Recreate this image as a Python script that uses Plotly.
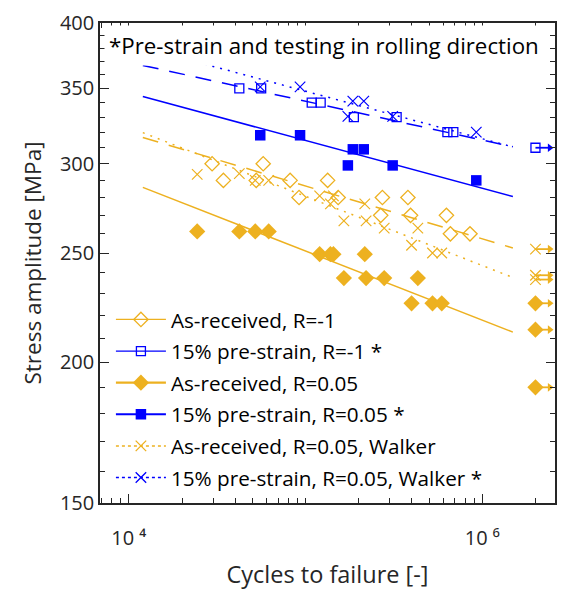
import numpy as np
import plotly.graph_objects as go

ORANGE = "#EDB120"
BLUE = "#0000FF"
AXIS = "#262626"
FONT = "Open Sans"

# ---- As-received, R=-1 ----
ar_m1_cycles = [29600, 57600, 34300, 52600, 81800, 133400, 91900, 153000,
                272200, 379600, 266300, 392900, 627000, 660300, 852300]
ar_m1_stress = [300, 300, 290, 290, 290, 290, 280, 280,
                280, 280, 270, 270, 270, 260, 260]

# ---- 15% pre-strain, R=-1 ----
ps_m1_cycles = [42200, 56100, 108400, 121800, 187700, 327700, 635000, 686000]
ps_m1_stress = [350, 350, 340, 340, 330, 330, 320, 320]
ps_m1_runout_cycles = [2.0e6]
ps_m1_runout_stress = [310]

# ---- As-received, R=0.05 (and Walker equivalent amplitude) ----
ar_r005_cycles = [24380, 42200, 51940, 61870, 120200, 138300, 143800, 216400,
                  164800, 220100, 278700, 432000, 398100, 522900, 589800]
ar_r005_stress = [261.25, 261.25, 261.25, 261.25, 249.4, 249.4, 249.4, 249.4,
                  237.5, 237.5, 237.5, 237.5, 225.6, 225.6, 225.6]
ar_walker_stress = [293.6, 294, 290, 290, 281, 276.4, 281, 276.4,
                    267, 267, 263, 263, 254, 250, 250]
ar_r005_runout_cycles = [2.0e6, 2.0e6, 2.0e6]
ar_r005_runout_stress = [225.6, 213.75, 190]
ar_walker_runout_cycles = [2.0e6, 2.0e6, 2.0e6]
ar_walker_runout_stress = [252, 238.9, 236.8]

# ---- 15% pre-strain, R=0.05 (and Walker equivalent amplitude) ----
ps_r005_cycles = [55420, 93110, 185200, 213600, 173600, 311200, 925100]
ps_r005_stress = [318, 318, 309, 309, 299, 299, 290]
ps_walker_stress = [351, 351, 341, 341, 330.5, 330.5, 320]

# ---- Basquin fits (end points) ----
fit_cycles = [1.2e4, 1.49e6]
ar_m1_fit = [316.6, 252.6]
ps_m1_fit = [366.8, 310.6]
ar_r005_fit = [285.9, 212.7]
ps_r005_fit = [344.2, 280.6]
ar_walker_fit = [319.7, 237.8]
ps_walker_fit = [380.5, 310.5]

# ---- axis ticks ----
x_range = [6870, 2.58e6]
y_range = [150, 400]
x_major = [1e4, 1e6]
x_major_text = ["10 \u2074", "10 \u2076"]
x_minor = [7e3, 8e3, 9e3] + [k * 1e4 for k in range(2, 10)] + \
          [k * 1e5 for k in range(1, 10)] + [2e6]
y_major = [150, 200, 250, 300, 350, 400]
y_minor = [v for v in range(160, 400, 10) if v % 50 != 0]

legend_labels = [
    "As-received, R=-1",
    "15% pre-strain, R=-1 *",
    "As-received, R=0.05",
    "15% pre-strain, R=0.05 *",
    "As-received, R=0.05, Walker",
    "15% pre-strain, R=0.05, Walker *",
]

# run-out arrow length, in decades of the cycle axis
ARROW_DECADES = 0.081

fig = go.Figure()

# fit lines
fits = [
    (ar_m1_fit, ORANGE, "16px,11px"),
    (ps_m1_fit, BLUE, "16px,11px"),
    (ar_r005_fit, ORANGE, "solid"),
    (ps_r005_fit, BLUE, "solid"),
    (ar_walker_fit, ORANGE, "2px,6px"),
    (ps_walker_fit, BLUE, "2px,6px"),
]
for ys, col, dash in fits:
    fig.add_trace(go.Scatter(x=fit_cycles, y=ys, mode="lines", showlegend=False,
                             hoverinfo="skip",
                             line=dict(color=col, width=1.5, dash=dash)))

# run-out arrows: shaft plus a triangular head to the right of each run-out
runouts = [
    (ps_m1_runout_cycles, ps_m1_runout_stress, BLUE),
    (ar_r005_runout_cycles, ar_r005_runout_stress, ORANGE),
    (ar_walker_runout_cycles, ar_walker_runout_stress, ORANGE),
]
for xs, ys, col in runouts:
    for xv, yv in zip(xs, ys):
        x_head = xv * 10 ** ARROW_DECADES
        fig.add_trace(go.Scatter(x=[xv, x_head], y=[yv, yv], mode="lines",
                                 line=dict(color=col, width=1.8),
                                 showlegend=False, hoverinfo="skip"))
        fig.add_trace(go.Scatter(x=[x_head], y=[yv], mode="markers",
                                 marker=dict(symbol="triangle-right", size=7.5,
                                             color=col, line=dict(width=0)),
                                 showlegend=False, hoverinfo="skip"))


def markers(x, y, color, symbol, size, open_=False):
    m = dict(symbol=symbol, size=size, color=color)
    if symbol.startswith("x"):
        m["line"] = dict(color=color, width=1.2)
    elif open_:
        m["line"] = dict(color=color, width=1.3)
    else:
        m["line"] = dict(width=0)
    fig.add_trace(go.Scatter(x=x, y=y, mode="markers", marker=m, showlegend=False))


# data points (failures + run-outs)
markers(ar_m1_cycles, ar_m1_stress, ORANGE, "diamond-open", 11, True)
markers(ps_m1_cycles + ps_m1_runout_cycles, ps_m1_stress + ps_m1_runout_stress,
        BLUE, "square-open", 9, True)
markers(ar_r005_cycles + ar_r005_runout_cycles, ar_r005_stress + ar_r005_runout_stress,
        ORANGE, "diamond", 12.5)
markers(ps_r005_cycles, ps_r005_stress, BLUE, "square", 10.5)
markers(ar_r005_cycles + ar_walker_runout_cycles, ar_walker_stress + ar_walker_runout_stress,
        ORANGE, "x-thin", 10.5)
markers(ps_r005_cycles, ps_walker_stress, BLUE, "x-thin", 10.5)

# legend entries
leg_styles = [
    (ORANGE, "diamond-open", 11, 1.2, True),
    (BLUE, "square-open", 9, 1.2, True),
    (ORANGE, "diamond", 12.5, 2.2, False),
    (BLUE, "square", 10.5, 2.2, False),
    (ORANGE, "x-thin", 10.5, 1.5, False),
    (BLUE, "x-thin", 10.5, 1.5, False),
]
for i, (label, (col, sym, sz, lw, op)) in enumerate(zip(legend_labels, leg_styles)):
    m = dict(symbol=sym, size=sz, color=col)
    if sym.startswith("x") or op:
        m["line"] = dict(color=col, width=1.3)
    else:
        m["line"] = dict(width=0)
    dash = "dot" if i >= 4 else "solid"
    fig.add_trace(go.Scatter(x=[None], y=[None], mode="lines+markers", name=label,
                             legendgroup=str(i),
                             marker=m, line=dict(color=col, width=lw, dash=dash)))

fig.add_annotation(text="*Pre-strain and testing in rolling direction",
                   xref="paper", yref="paper", x=0.492, y=0.954,
                   xanchor="center", yanchor="middle", showarrow=False,
                   bgcolor="white", borderpad=4,
                   font=dict(size=22.3, color="#000", family=FONT))

axis_common = dict(type="log", showline=True, linecolor=AXIS, linewidth=1.5,
                   mirror="ticks", ticks="inside", tickcolor=AXIS, tickwidth=1.2,
                   showgrid=False, zeroline=False,
                   tickfont=dict(size=20, color=AXIS, family=FONT))

fig.update_xaxes(range=[np.log10(v) for v in x_range], tickmode="array",
                 tickvals=x_major, ticktext=x_major_text, ticklen=9,
                 ticklabelstandoff=16,
                 minor=dict(tickmode="array", tickvals=x_minor, ticks="inside",
                            ticklen=5, tickcolor=AXIS, tickwidth=1.2),
                 title=dict(text="Cycles to failure [-]", standoff=17,
                            font=dict(size=23.5, color=AXIS, family=FONT)),
                 **axis_common)
fig.update_yaxes(range=[np.log10(v) for v in y_range], tickmode="array",
                 tickvals=y_major, ticktext=[str(v) for v in y_major], ticklen=9,
                 minor=dict(tickmode="array", tickvals=y_minor, ticks="inside",
                            ticklen=5, tickcolor=AXIS, tickwidth=1.2),
                 title=dict(text="Stress amplitude [MPa]", standoff=12,
                            font=dict(size=22.5, color=AXIS, family=FONT)),
                 **axis_common)

fig.update_layout(
    width=566, height=593,
    margin=dict(l=100, r=9, t=17, b=88),
    paper_bgcolor="white", plot_bgcolor="white",
    font=dict(family=FONT, size=20, color=AXIS),
    showlegend=True,
    legend=dict(x=0.024, y=0.424, xanchor="left", yanchor="top",
                bgcolor="rgba(0,0,0,0)", borderwidth=0,
                font=dict(size=20.7, color="#000", family=FONT),
                itemwidth=50, tracegroupgap=1.7),
)

fig.write_html("out.html")
